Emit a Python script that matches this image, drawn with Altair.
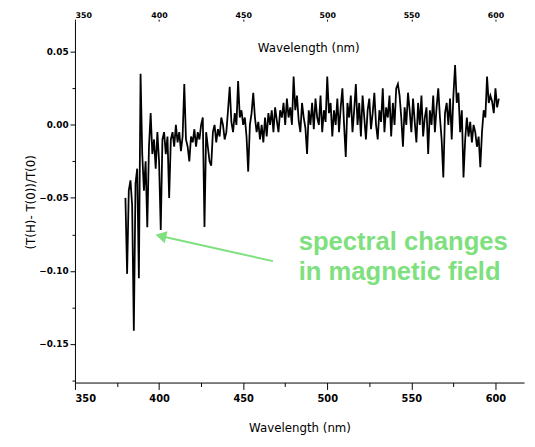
import altair as alt
import pandas as pd

# Spectrum: wavelength (nm) 380..602 step 1, values in units of 0.001
start_nm = 380
ratio_milli = [
    -50, -102, -45, -38, -55, -141, -40, -30, -105, 35,
    -20, -45, -25, -70, -15, 8, -20, -10, -30, -5,
    -25, -72, -10, -5, -20, -8, -50, -10, -5, -15,
    0, -12, -5, -18, -8, 28, -10, -15, -25, -8,
    -12, -3, -15, -5, -10, 0, 5, -70, -5, -15,
    -25, -28, -5, 0, -12, -3, -8, 5, 0, -10,
    -5, 10, 26, 2, -5, 8, 0, 30, 5, 10,
    0, 5, -8, -32, 0, 8, 22, 5, -5, 2,
    -10, 0, -12, 5, -8, 8, 0, 10, -5, 12,
    3, -5, 10, 5, 15, 0, 18, 5, 12, 0,
    33, 10, 20, 3, -5, 15, 5, -2, -20, 10,
    0, 15, -3, 18, 5, 0, 20, -5, 10, 2,
    33, 8, 15, -8, 10, 0, 18, -5, 12, 25,
    0, -22, 15, 5, 20, -5, 10, 28, 0, 15,
    -8, 20, 5, -10, 10, 18, -3, 8, 22, 0,
    -10, 10, 2, 25, -5, 12, 5, 20, -8, 15,
    0, 25, 28, 20, 5, -15, 12, 0, 22, 10,
    -5, 18, 2, -12, 15, 0, 20, -8, 5, 12,
    -20, 10, 0, 20, -5, 12, 25, 5, -10, -36,
    8, 15, 0, 18, -10, 20, 41, 15, 22, -5,
    10, -36, -10, 5, -8, 2, -12, 0, -5, -15,
    -8, -29, -5, 10, 5, 33, 15, 20, 16, 8,
    25, 12, 18,
]
wavelength = [start_nm + i for i in range(len(ratio_milli))]
ratio = [v / 1000 for v in ratio_milli]

x_ticks = [350, 375, 400, 425, 450, 475, 500, 525, 550, 575, 600]
top_ticks = [350, 400, 450, 500, 550, 600]
y_ticks = [-0.175, -0.15, -0.125, -0.10, -0.075, -0.05, -0.025, 0.0, 0.025, 0.05]
x_domain = [350, 617]
y_domain = [-0.1764, 0.0710]

note_lines = ["spectral changes", "in magnetic field"]
note_x = [483, 483]
note_y = [-0.0804, -0.1010]
arrow_from = [467.7, -0.0933]
arrow_to = [402.1, -0.0764]

inner_title = "Wavelength (nm)"
inner_title_pos = [489, 0.0525]

df = pd.DataFrame({"wl": wavelength, "r": ratio})

xs = alt.Scale(domain=x_domain, nice=False, zero=False)
ys = alt.Scale(domain=y_domain, nice=False, zero=False)

font = "DejaVu Sans"
green = "#7ee07e"

x_axis = alt.Axis(
    orient="bottom", values=x_ticks, title="Wavelength (nm)", grid=False,
    labelExpr="datum.value % 50 === 0 ? datum.label : ''",
    tickSize={"condition": {"test": "datum.value % 50 === 0", "value": 7}, "value": 4},
    domainColor="black", tickColor="black", labelColor="black", titleColor="black",
    labelFont=font, labelFontSize=10, labelFontWeight="bold", titleFont=font, titleFontSize=12,
    titleFontWeight="normal", titlePadding=20, labelPadding=4,
)
y_axis = alt.Axis(
    values=y_ticks, title="(T(H)- T(0))/T(0)", grid=False,
    labelExpr="abs(datum.value * 1000 % 50) < 1e-6 ? format(datum.value, '.2f') : ''",
    tickSize={"condition": {"test": "abs(datum.value * 1000 % 50) < 1e-6", "value": 5}, "value": 3},
    domainColor="black", tickColor="black", labelColor="black", titleColor="black",
    labelFont=font, labelFontSize=9, labelFontWeight="bold", titleFont=font, titleFontSize=12,
    titleFontWeight="normal", titlePadding=1,
)

line = alt.Chart(df).mark_line(color="black", strokeWidth=1.8, interpolate="linear").encode(
    x=alt.X("wl:Q", scale=xs, axis=x_axis),
    y=alt.Y("r:Q", scale=ys, axis=y_axis),
)

top_axis = alt.Chart(pd.DataFrame({"wl": [x_domain[0]], "r": [0.0]})).mark_point(opacity=0).encode(
    x=alt.X("wl:Q", scale=xs, axis=alt.Axis(
        orient="top", values=top_ticks, title=None, grid=False,
        domain=False, tickSize=2, labelPadding=0, labelFont=font, labelFontSize=8,
        labelFontWeight="bold", labelColor="black", tickColor="black")),
    y=alt.Y("r:Q", scale=ys, axis=None),
)

title_df = pd.DataFrame({"wl": [inner_title_pos[0]], "r": [inner_title_pos[1]], "t": [inner_title]})
title_mark = alt.Chart(title_df).mark_text(font=font, fontSize=12, color="black").encode(
    x=alt.X("wl:Q", scale=xs, axis=None), y=alt.Y("r:Q", scale=ys, axis=None), text="t:N")

note_df = pd.DataFrame({"wl": note_x, "r": note_y, "t": note_lines})
note = alt.Chart(note_df).mark_text(
    font="Liberation Sans", fontSize=26, fontWeight="bold", color=green,
    align="left", baseline="middle"
).encode(x=alt.X("wl:Q", scale=xs, axis=None), y=alt.Y("r:Q", scale=ys, axis=None), text="t:N")

arrow_df = pd.DataFrame({"x1": [arrow_from[0]], "y1": [arrow_from[1]],
                         "x2": [arrow_to[0]], "y2": [arrow_to[1]]})
shaft = alt.Chart(arrow_df).mark_rule(color=green, strokeWidth=2).encode(
    x=alt.X("x1:Q", scale=xs, axis=None), y=alt.Y("y1:Q", scale=ys, axis=None),
    x2="x2:Q", y2="y2:Q")
head = alt.Chart(arrow_df).mark_point(
    shape="triangle", filled=True, color=green, size=160, angle=283, opacity=1
).encode(x=alt.X("x2:Q", scale=xs, axis=None), y=alt.Y("y2:Q", scale=ys, axis=None))

chart = alt.layer(line, top_axis, title_mark, shaft, head, note).resolve_axis(
    x="independent", y="independent"
).properties(
    width=456, height=367,
    autosize=alt.AutoSizeParams(type="none"),
    padding={"left": 68, "top": 10, "right": 3, "bottom": 54},
    background="white",
).configure_view(stroke=None)

chart.save("out.html", embed_options={"renderer": "svg", "actions": False})
